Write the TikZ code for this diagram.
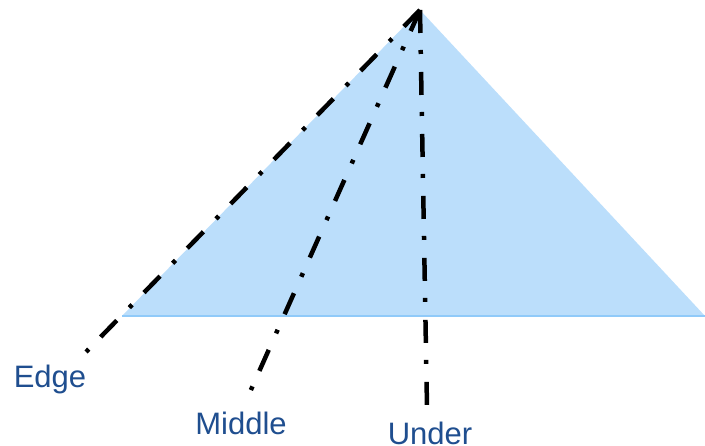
\documentclass[tikz,border=0pt]{standalone}
\usepackage{fontspec}
\setmainfont{Liberation Sans}
\usetikzlibrary{positioning}
\definecolor{roofblue}{HTML}{BBDEFB}
\definecolor{roofedge}{HTML}{90CAF9}
\definecolor{lblblue}{HTML}{1F4E8F}

\begin{document}
\begin{tikzpicture}[
  x=1pt, y=-1pt,
  ray/.style={line width=4.5pt, black, dash pattern=on 23pt off 17pt on 4pt off 18pt},
  lbl/.style={font=\fontsize{31}{36}\selectfont, text=lblblue, inner sep=0pt},
]
% ---- frame ----
\useasboundingbox (0,0) rectangle (705,446);

% ---- triangle ----
\coordinate (apex) at (420,10);
\coordinate (bl) at (122,316);
\coordinate (br) at (705,316);
\fill[roofblue] (apex) -- (br) -- (bl) -- cycle;
\draw[roofedge, line width=1.5pt] (bl) -- (br);

% ---- ray ends ----
\coordinate (edgeEnd) at (85,353);
\coordinate (midEnd) at (250,392);
\coordinate (underEnd) at (427,407);

% ---- rays ----
\draw[ray] (apex) -- (edgeEnd);
\draw[ray] (apex) -- (midEnd);
\draw[ray] (apex) -- (underEnd);

% ---- labels ----
\node[lbl] (edgeLbl) at (50,379) {Edge};
\node[lbl] (midLbl) at (241,423) {Middle};
\node[lbl] (underLbl) at (430,433) {Under};
\end{tikzpicture}
\end{document}
